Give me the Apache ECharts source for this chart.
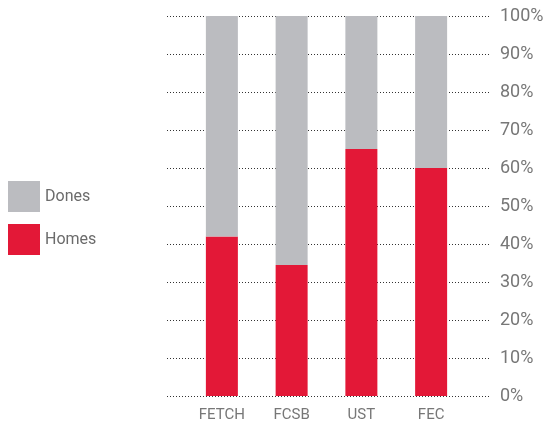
<!DOCTYPE html>
<html>
<head>
<meta charset="utf-8">
<script src="https://cdn.jsdelivr.net/npm/echarts@6/dist/echarts.min.js"></script>
<style>
  html, body { margin: 0; padding: 0; background: #fff; }
  #chart { width: 551px; height: 427px; }
</style>
</head>
<body>
<div id="chart"></div>
<script>
var categories = ['FETCH', 'FCSB', 'UST', 'FEC'];
var homes = [42, 34.5, 65, 60];
var dones = [58, 65.5, 35, 40];
var yTicks = [0, 10, 20, 30, 40, 50, 60, 70, 80, 90, 100];

var red = '#e31837';
var grey = '#bbbcc0';

var chart = echarts.init(document.getElementById('chart'));

chart.setOption({
    animation: false,
    textStyle: { fontFamily: 'Roboto, sans-serif' },
    legend: {
        orient: 'vertical',
        left: 3,
        top: 176,
        itemWidth: 32,
        itemHeight: 31,
        itemGap: 12,
        icon: 'rect',
        data: ['Dones', 'Homes'],
        textStyle: { color: '#6b6b6b', fontSize: 16 }
    },
    grid: [
        // grid for the dotted lines and the right-hand labels
        { left: 167, right: 61, top: 16, bottom: 31 },
        // grid for the bars
        { left: 187, right: 85, top: 16, bottom: 31 }
    ],
    xAxis: [
        { type: 'category', gridIndex: 0, data: categories, show: false },
        {
            type: 'category', gridIndex: 1, data: categories,
            axisLine: { show: false }, axisTick: { show: false },
            axisLabel: { color: '#777', fontSize: 15, margin: 12 }
        }
    ],
    yAxis: [
        {
            type: 'value', gridIndex: 0, position: 'right',
            min: yTicks[0], max: yTicks[yTicks.length - 1], interval: 10,
            axisLine: { show: false }, axisTick: { show: false },
            axisLabel: { color: '#777', fontSize: 18, margin: 10, formatter: '{value}%' },
            splitLine: { lineStyle: { color: '#333', type: [1, 2], width: 1 } }
        },
        {
            type: 'value', gridIndex: 1, min: 0, max: 100, interval: 10,
            show: false, splitLine: { show: false }
        }
    ],
    series: [
        {
            name: 'Homes', type: 'bar', stack: 'all',
            xAxisIndex: 1, yAxisIndex: 1,
            barWidth: 32, itemStyle: { color: red }, data: homes
        },
        {
            name: 'Dones', type: 'bar', stack: 'all',
            xAxisIndex: 1, yAxisIndex: 1,
            barWidth: 32, itemStyle: { color: grey }, data: dones
        }
    ]
});
</script>
</body>
</html>
